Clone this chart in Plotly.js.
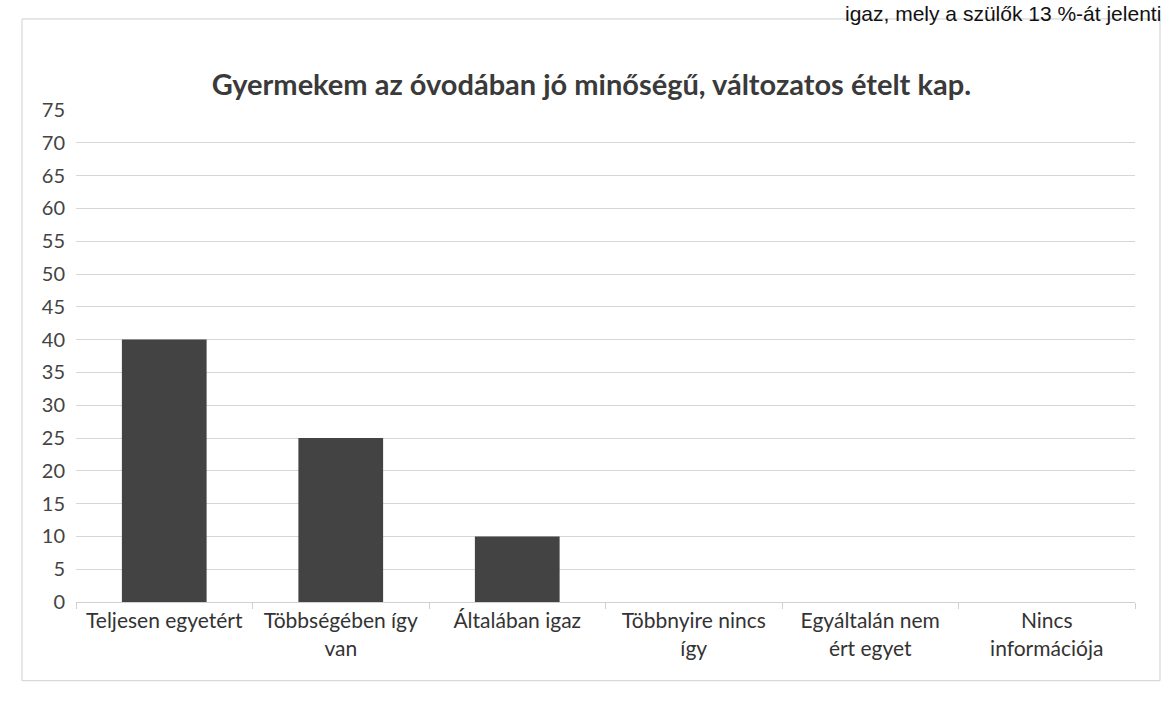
<!DOCTYPE html>
<html>
<head>
<meta charset="utf-8">
<script src="https://cdn.plot.ly/plotly-3.0.1.min.js"></script>
<style>html,body{margin:0;padding:0;background:#fff;}#chart{width:1171px;height:710px;}</style>
</head>
<body>
<div id="chart"></div>
<script>
const categories = [
  "Teljesen egyetért",
  "Többségében így<br>van",
  "Általában igaz",
  "Többnyire nincs<br>így",
  "Egyáltalán nem<br>ért egyet",
  "Nincs<br>információja"
];
const values = [40, 25, 10, 0, 0, 0];
const yTicks = [0, 5, 10, 15, 20, 25, 30, 35, 40, 45, 50, 55, 60, 65, 70, 75];
const chartTitle = "Gyermekem az óvodában jó minőségű, változatos ételt kap.";
const pageText = "igaz, mely a szülők 13 %-át jelenti";

const trace = {
  type: "bar",
  x: categories,
  y: values,
  marker: {color: "#434343"},
  hoverinfo: "x+y"
};

const layout = {
  width: 1171,
  height: 710,
  margin: {l: 76, r: 36, t: 110, b: 108},
  paper_bgcolor: "#ffffff",
  plot_bgcolor: "#ffffff",
  bargap: 0.52,
  showlegend: false,
  font: {family: "Lato, 'Open Sans', sans-serif", color: "#404040"},
  title: {
    text: "<b>" + chartTitle + "</b>",
    font: {family: "Lato, 'Open Sans', sans-serif", size: 29, color: "#3a3a3a"},
    x: 0.505, xanchor: "center",
    y: 0.88, yanchor: "middle"
  },
  xaxis: {
    type: "category",
    showgrid: false,
    showline: true,
    linecolor: "#d0d0d0",
    linewidth: 1,
    ticks: "outside",
    tickson: "boundaries",
    ticklen: 6,
    tickcolor: "#d0d0d0",
    tickfont: {size: 21, color: "#333333"},
    fixedrange: true
  },
  yaxis: {
    range: [0, 75],
    tickvals: yTicks,
    showgrid: true,
    gridcolor: "#d6d6d6",
    gridwidth: 1,
    zeroline: false,
    showline: false,
    ticks: "",
    ticklabelstandoff: 10,
    tickfont: {size: 20, color: "#444444"},
    fixedrange: true
  },
  shapes: [{
    type: "rect", xref: "paper", yref: "paper",
    x0: -0.051, x1: 1.0236, y0: -0.16, y1: 1.185,
    line: {color: "#cfcfcf", width: 1}, fillcolor: "rgba(0,0,0,0)", layer: "below"
  }],
  annotations: [{
    text: pageText,
    xref: "paper", yref: "paper",
    x: 1.026, y: 1.197, xanchor: "right", yanchor: "middle",
    showarrow: false,
    font: {family: "'Liberation Sans', Arial, sans-serif", size: 21, color: "#111111"}
  }]
};

Plotly.newPlot("chart", [trace], layout, {displayModeBar: false, staticPlot: true});
</script>
</body>
</html>
